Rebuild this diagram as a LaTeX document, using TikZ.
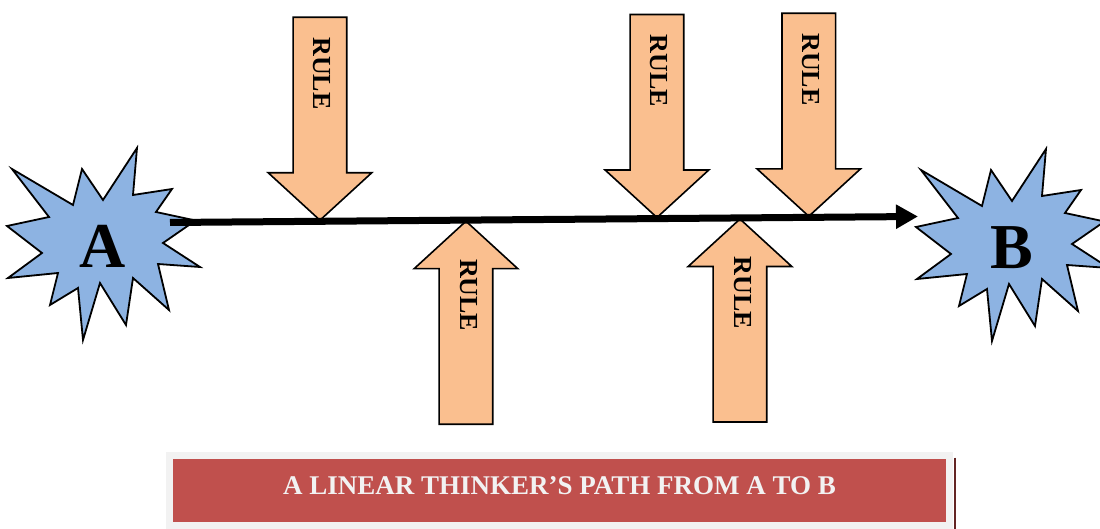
\documentclass[tikz,border=0pt]{standalone}
\usepackage{fontspec}
\setmainfont{Liberation Serif}
\usetikzlibrary{arrows.meta,positioning,shapes.arrows,calc}
\definecolor{burstblue}{RGB}{141,179,226}
\definecolor{rulepeach}{RGB}{250,191,143}
\definecolor{bannerred}{RGB}{192,80,77}
\definecolor{bannergray}{RGB}{242,242,242}
\definecolor{bannerdark}{RGB}{99,36,35}
\tikzset{
  burst/.style={draw=black, line width=0.9pt, fill=burstblue, line join=miter},
  starburst/.pic={
    \draw[burst] (12,169) -- (73,205) -- (82,169) -- (103,200) -- (137,148) -- (133,195)
      -- (172,189) -- (156,212) -- (195.5,220.5) -- (163,243) -- (200,267) -- (158,264)
      -- (169,310) -- (133,278) -- (126,325) -- (100,283) -- (83,340) -- (78,288)
      -- (50,305) -- (58,273) -- (8,278) -- (42,253) -- (7,226) -- (49,217) -- cycle;
  },
  rulearrow/.style={single arrow, draw=black, line width=0.8pt, fill=rulepeach,
    minimum height=101.5pt, single arrow head extend=12.5pt, single arrow tip angle=95,
    inner xsep=0pt, inner ysep=13pt, anchor=tip},
  ruledown/.style={rulearrow, rotate=-90},
  ruleup/.style={rulearrow, rotate=90},
  ruletext/.style={rotate=-90, inner sep=0pt, font=\fontsize{13}{13}\selectfont\bfseries},
  endlabel/.style={inner sep=0pt, anchor=base, font=\fontsize{32}{32}\selectfont\bfseries},
  mainpath/.style={line width=3.5pt, -{Triangle[length=11pt,width=11.5pt]}}
}

\begin{document}
\begin{tikzpicture}[x=0.5pt, y=-0.5pt]
  \useasboundingbox (0,0) rectangle (1100,529);

  % Start and goal
  \pic at (0,0) {starburst};
  \pic at (909,1) {starburst};

  \coordinate (pathstart) at (170,222.5);
  \coordinate (pathend) at (918,216.5);

  % Rules from above
  \node[ruledown] (r1) at ($(pathstart)!0.2005!(pathend)$) {};
  \node[ruledown] (r3) at ($(pathstart)!0.651!(pathend)$) {};
  \node[ruledown] (r4) at ($(pathstart)!0.854!(pathend)$) {};
  % Rules from below
  \node[ruleup] (r2) at ($(pathstart)!0.3957!(pathend)$) {};
  \node[ruleup] (r5) at ($(pathstart)!0.762!(pathend)$) {};

  \node[ruletext] (t1) at ($(r1.tail)+(2,57)$) {RULE};
  \node[ruletext] (t3) at ($(r3.tail)+(2,57)$) {RULE};
  \node[ruletext] (t4) at ($(r4.tail)+(2,57)$) {RULE};
  \node[ruletext] (t2) at ($(r2.tip)+(3,75)$) {RULE};
  \node[ruletext] (t5) at ($(r5.tip)+(3,75)$) {RULE};

  % The straight path
  \draw[mainpath] (pathstart) -- (pathend);

  \node[endlabel] (A) at (103,268) {A};
  \node[endlabel] (B) at (1012,269) {B};

  % Caption banner
  \node[fill=bannergray, minimum width=393.5pt, minimum height=38.5pt, inner sep=0pt] (bannerbg) at (559.5,490.5) {};
  \node[fill=bannerred, minimum width=386.5pt, minimum height=31.5pt, inner sep=0pt] (bannerbox) at (bannerbg.center) {};
  \node[inner sep=0pt, text=bannergray, font=\fontsize{13.5}{13.5}\selectfont\bfseries] (title) at ($(bannerbox.center)+(0,-4.5)$) {A LINEAR THINKER’S PATH FROM A TO B};
  \draw[bannerdark, line width=1pt] ([xshift=1pt,yshift=-3pt]bannerbg.north east) -- ([xshift=1pt]bannerbg.south east);
\end{tikzpicture}
\end{document}
